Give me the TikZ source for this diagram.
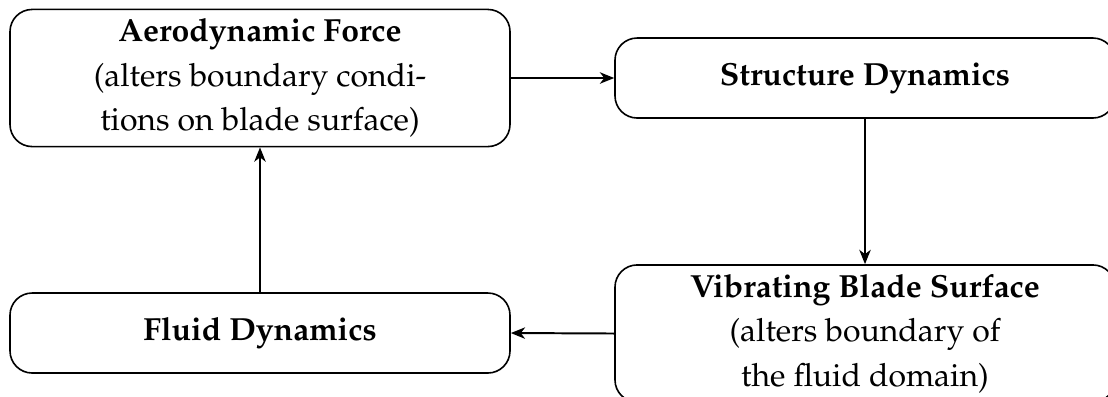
\documentclass[tikz,border=0pt]{standalone}
\usepackage[T1]{fontenc}
\usepackage{mathpazo}
\usetikzlibrary{arrows.meta}
\begin{document}
\begin{tikzpicture}[x=0.28pt, y=-0.28pt,
  box/.style={draw, line width=0.45pt, rounded corners=6.2pt, minimum width=140pt, align=center, inner sep=0pt, font=\fontsize{8.95}{12.46}\selectfont},
  tall/.style={box, minimum height=38.4pt},
  short/.style={box, minimum height=22.4pt},
  flow/.style={-{Stealth[length=4pt, width=3.2pt, inset=1.2pt]}, line width=0.55pt}]
\useasboundingbox (0,0) rectangle (1108,396);
\clip (0,0) rectangle (1108,396);
\node[tall] (aero) at (260,78) {\textbf{Aerodynamic Force}\\(alters boundary condi-\\tions on blade surface)};
\node[short] (struct) at (865,78) {\textbf{Structure Dynamics}};
\node[tall] (vib) at (865,333.5) {\textbf{Vibrating Blade Surface}\\(alters boundary of\\the fluid domain)};
\node[short] (fluid) at (260,333) {\textbf{Fluid Dynamics}};
\draw[flow] (aero.east) -- (struct.west);
\draw[flow] (struct.south) -- (vib.north);
\draw[flow] (vib.west) -- (fluid.east);
\draw[flow] (fluid.north) -- (aero.south);
\end{tikzpicture}
\end{document}
